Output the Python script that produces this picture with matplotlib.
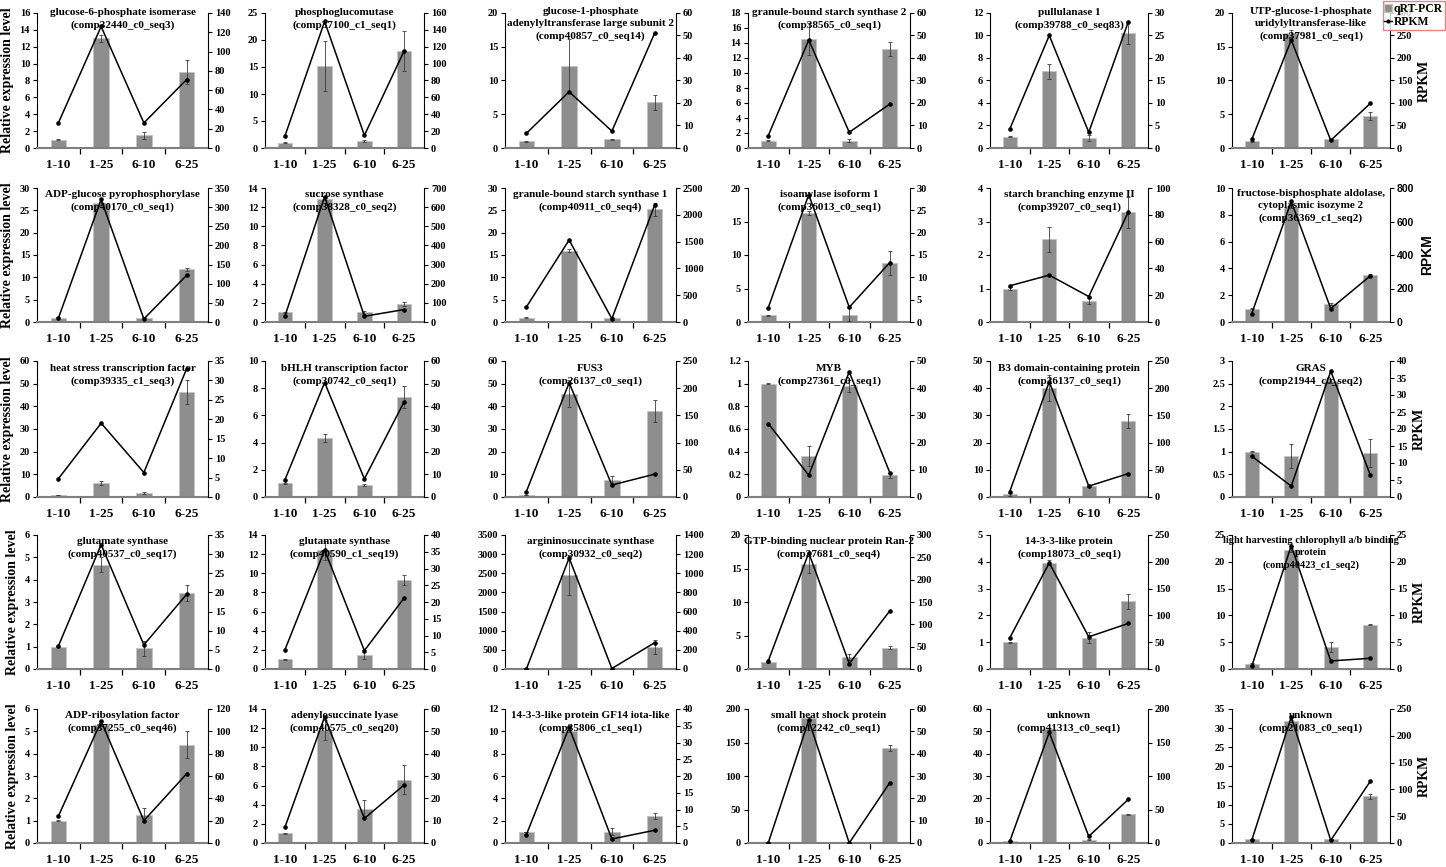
import matplotlib
matplotlib.use('Agg')
import matplotlib.pyplot as plt
from matplotlib.lines import Line2D
from matplotlib.patches import Patch
from matplotlib.ticker import FuncFormatter

plt.rcParams['font.family'] = ['Liberation Serif', 'DejaVu Serif']
plt.rcParams['font.weight'] = 'bold'

categories = ['1-10', '1-25', '6-10', '6-25']

titles = [
    'glucose-6-phosphate isomerase\n(comp32440_c0_seq3)',
    'phosphoglucomutase\n(comp37100_c1_seq1)',
    'glucose-1-phosphate\nadenylyltransferase large subunit 2\n(comp40857_c0_seq14)',
    'granule-bound starch synthase 2\n(comp38565_c0_seq1)',
    'pullulanase 1\n(comp39788_c0_seq83)',
    'UTP-glucose-1-phosphate\nuridylyltransferase-like\n(comp37981_c0_seq1)',
    'ADP-glucose pyrophosphorylase\n(comp40170_c0_seq1)',
    'sucrose synthase\n(comp38328_c0_seq2)',
    'granule-bound starch synthase 1\n(comp40911_c0_seq4)',
    'isoamylase isoform 1\n(comp36013_c0_seq1)',
    'starch branching enzyme II\n(comp39207_c0_seq1)',
    'fructose-bisphosphate aldolase,\ncytoplasmic isozyme 2\n(comp36369_c1_seq2)',
    'heat stress transcription factor\n(comp39335_c1_seq3)',
    'bHLH transcription factor\n(comp30742_c0_seq1)',
    'FUS3\n(comp26137_c0_seq1)',
    'MYB\n(comp27361_c0_seq1)',
    'B3 domain-containing protein\n(comp26137_c0_seq1)',
    'GRAS\n(comp21944_c0_seq2)',
    'glutamate synthase\n(comp40537_c0_seq17)',
    'glutamate synthase\n(comp40590_c1_seq19)',
    'argininosuccinate synthase\n(comp30932_c0_seq2)',
    'GTP-binding nuclear protein Ran-2\n(comp37681_c0_seq4)',
    '14-3-3-like protein\n(comp18073_c0_seq1)',
    'light harvesting chlorophyll a/b binding\nprotein\n(comp40423_c1_seq2)',
    'ADP-ribosylation factor\n(comp37255_c0_seq46)',
    'adenylosuccinate lyase\n(comp40575_c0_seq20)',
    '14-3-3-like protein GF14 iota-like\n(comp35806_c1_seq1)',
    'small heat shock protein\n(comp12242_c0_seq1)',
    'unknown\n(comp41313_c0_seq1)',
    'unknown\n(comp21083_c0_seq1)',
]

qpcr_values = [
    [1.0, 13.0, 1.5, 9.0], [1.0, 15.2, 1.3, 17.9], [1.0, 12.2, 1.3, 6.8],
    [1.0, 14.5, 1.0, 13.2], [1.0, 6.8, 0.9, 10.2], [1.0, 17.0, 1.3, 4.7],
    [1.0, 26.6, 1.0, 11.8], [1.0, 12.9, 1.0, 1.9], [1.0, 16.0, 1.0, 25.2],
    [1.0, 16.2, 1.1, 8.8], [1.0, 2.47, 0.63, 3.27], [1.0, 8.6, 1.35, 3.5],
    [1.0, 6.3, 1.8, 46.5], [1.0, 4.35, 0.9, 7.35], [1.0, 45.5, 7.3, 38.0],
    [1.0, 0.36, 0.98, 0.19], [1.0, 40.0, 4.0, 28.0], [1.0, 0.9, 2.56, 0.97],
    [1.0, 4.67, 0.92, 3.4], [1.0, 12.4, 1.5, 9.3], [1.0, 2450, 1.0, 580],
    [1.0, 15.6, 1.8, 3.2], [1.0, 3.97, 1.17, 2.53], [1.0, 22.2, 4.1, 8.3],
    [1.0, 5.3, 1.25, 4.4], [1.0, 11.8, 3.6, 6.6], [1.0, 10.0, 1.0, 2.4],
    [1.0, 186, 0.8, 142], [1.0, 51.0, 1.5, 12.8], [1.0, 31.8, 1.0, 12.2],
]

qpcr_errors = [
    [0.05, 0.4, 0.45, 1.4], [0.05, 4.6, 0.2, 3.7], [0.1, 3.9, 0.1, 1.1],
    [0.05, 2.1, 0.2, 0.9], [0.05, 0.7, 0.3, 1.0], [0.05, 0.5, 0.1, 0.6],
    [0.05, 0.3, 0.05, 0.3], [0.05, 0.2, 0.2, 0.2], [0.05, 0.4, 0.2, 1.5],
    [0.1, 0.3, 1.0, 1.8], [0.03, 0.37, 0.1, 0.47], [0.05, 0.1, 0.1, 0.1],
    [0.1, 0.8, 0.4, 5.3], [0.05, 0.3, 0.07, 0.8], [0.1, 6.0, 2.0, 5.0],
    [0.005, 0.09, 0.05, 0.02], [0.5, 4.8, 0.4, 2.5], [0.005, 0.26, 0.05, 0.3],
    [0.02, 0.33, 0.35, 0.35], [0.02, 1.0, 0.5, 0.5], [0.0, 520, 0.0, 180],
    [0.05, 1.2, 0.5, 0.2], [0.02, 0.1, 0.2, 0.28], [0.05, 0.3, 0.9, 0.1],
    [0.02, 0.05, 0.3, 0.6], [0.05, 1.0, 0.9, 1.5], [0.02, 0.1, 0.3, 0.25],
    [0.1, 2.0, 0.1, 5.0], [0.05, 0.3, 0.1, 0.2], [0.05, 0.3, 0.1, 0.6],
]

rpkm_values = [
    [26, 126, 26, 71], [14, 150, 15, 115], [6.5, 25, 7.5, 51],
    [5.5, 48, 7, 19.5], [4.2, 25, 3.5, 28], [19, 240, 17, 99],
    [10, 320, 8, 122], [30, 655, 30, 65], [280, 1530, 60, 2180],
    [3.2, 28.5, 3.3, 13.3], [27, 35, 19, 82], [50, 720, 80, 275],
    [4.7, 19, 6.3, 33], [7.5, 50.5, 8, 42], [10, 210, 22, 42],
    [27, 8, 46, 9], [10, 212, 20, 43], [12, 3.2, 37, 6.5],
    [6, 32.5, 6.3, 19.5], [5.7, 35.5, 5.5, 21.2], [0, 1160, 5, 275],
    [18, 260, 12, 130], [58, 198, 60, 85], [0.5, 23, 1.5, 2.0],
    [24, 109, 20, 62], [7, 56.5, 11, 26], [2.5, 34.5, 1.2, 3.8],
    [0, 55, 0, 27], [2.5, 165, 10, 65], [5, 235, 5, 115],
]

left_axis = [  # (max, step)
    (16, 2), (25, 5), (20, 5), (18, 2), (12, 2), (20, 5),
    (30, 5), (14, 2), (30, 5), (20, 5), (4, 1), (10, 2),
    (60, 10), (10, 2), (60, 10), (1.2, 0.2), (50, 10), (3, 0.5),
    (6, 1), (14, 2), (3500, 500), (20, 5), (5, 1), (25, 5),
    (6, 1), (14, 2), (12, 2), (200, 50), (60, 10), (35, 5),
]

right_axis = [  # (max, step)
    (140, 20), (160, 20), (60, 10), (60, 10), (30, 5), (300, 50),
    (350, 50), (700, 100), (2500, 500), (30, 5), (100, 20), (800, 200),
    (35, 5), (60, 10), (250, 50), (50, 10), (250, 50), (40, 5),
    (35, 5), (40, 5), (1400, 200), (300, 50), (250, 50), (25, 5),
    (120, 20), (60, 10), (40, 5), (60, 10), (200, 50), (250, 50),
]

W, H = 1446, 867
fig = plt.figure(figsize=(W / 100, H / 100), dpi=100)

col_left = [37, 265, 505, 748, 990, 1232]
col_right = [208, 424, 676, 910, 1148, 1390]
row_top = [13, 188, 361, 535, 709]
row_bottom = [148, 322, 497, 669, 843]
title_off = [6, 13, 14, 13, 13]

fmt = FuncFormatter(lambda v, p: f'{round(v, 6):g}')
bar_color = '#8e8e8e'

def ticks(mx, st):
    n = int(round(mx / st))
    return [round(i * st, 6) for i in range(n + 1)]

for i in range(30):
    r, c = divmod(i, 6)
    x0 = col_left[c] / W
    w = (col_right[c] - col_left[c]) / W
    y0 = 1 - row_bottom[r] / H
    hp = row_bottom[r] - row_top[r]
    h = hp / H
    ax = fig.add_axes([x0, y0, w, h])
    xs = list(range(4))
    ax.bar(xs, qpcr_values[i], width=0.36, color=bar_color,
           edgecolor='#c4c4c4', linewidth=0.7, zorder=2)
    ax.errorbar(xs, qpcr_values[i], yerr=qpcr_errors[i], fmt='none',
                ecolor='#3a3a3a', elinewidth=0.6, capsize=1.5, capthick=0.6, zorder=3)
    lm, ls = left_axis[i]
    ax.set_ylim(0, lm)
    ax.set_yticks(ticks(lm, ls))
    ax.yaxis.set_major_formatter(fmt)
    ax.set_xlim(-0.5, 3.5)
    ax.set_xticks(xs)
    ax.set_xticklabels(categories, fontsize=9.5, fontweight='bold')
    ax.set_xticks([0.5, 1.5, 2.5], minor=True)
    ax.tick_params(axis='x', which='major', length=0, pad=8)
    ax.tick_params(axis='x', which='minor', length=4, width=0.9, direction='out')
    ax.tick_params(axis='y', length=3, width=0.8, direction='out', labelsize=7.5, pad=2)
    for lab in ax.get_yticklabels():
        lab.set_fontweight('bold')
    ax.spines['top'].set_visible(False)
    ax.spines['right'].set_visible(False)
    ax.spines['bottom'].set_color('#808080')
    ax.spines['bottom'].set_linewidth(1.5)
    ax.spines['left'].set_linewidth(0.8)
    ax.patch.set_alpha(0)

    ax2 = ax.twinx()
    ax2.plot(xs, rpkm_values[i], color='black', linewidth=1.1, marker='o',
             markersize=2.3, zorder=4)
    rm, rs = right_axis[i]
    ax2.set_ylim(0, rm)
    ax2.set_yticks(ticks(rm, rs))
    ax2.yaxis.set_major_formatter(fmt)
    ax2.tick_params(axis='y', length=3, width=0.8, direction='out', labelsize=7.5, pad=2)
    right_family = ['Liberation Sans', 'DejaVu Sans'] if i == 11 else ['Liberation Serif', 'DejaVu Serif']
    for lab in ax2.get_yticklabels():
        lab.set_fontweight('bold')
        lab.set_family(right_family)
    ax2.spines['top'].set_visible(False)
    ax2.spines['left'].set_visible(False)
    ax2.spines['bottom'].set_visible(False)
    ax2.spines['right'].set_linewidth(0.8)

    nlines = titles[i].count('\n') + 1
    off = title_off[r] + (5 if nlines == 3 else 0)
    tsize = 7.5 if i == 23 else 8
    ax.text(0.5, 1 - off / hp, titles[i],
            transform=ax.transAxes, ha='center', va='center', fontsize=tsize,
            fontweight='bold', linespacing=1.5, zorder=10)

    if c == 0:
        ax.set_ylabel('Relative expression level', fontsize=10, fontweight='bold',
                      labelpad=4)
    if c == 5:
        ax2.set_ylabel('RPKM', fontsize=10, fontweight='bold', labelpad=4,
                       family=right_family)

handles = [Patch(facecolor=bar_color, edgecolor='#c4c4c4'),
           Line2D([0], [0], color='black', marker='o', markersize=2, linewidth=1)]
leg = fig.legend(handles, ['qRT-PCR', 'RPKM'], loc='upper right',
                 bbox_to_anchor=(1.0, 1.0), frameon=True, fancybox=False,
                 edgecolor='#e06666', borderpad=0.15, labelspacing=0.1,
                 borderaxespad=0.1, handlelength=0.6, handleheight=0.6,
                 handletextpad=0.2, prop={'size': 8.5, 'weight': 'bold'})
leg.get_frame().set_linewidth(1.0)

fig.savefig('out.png', dpi=100)
